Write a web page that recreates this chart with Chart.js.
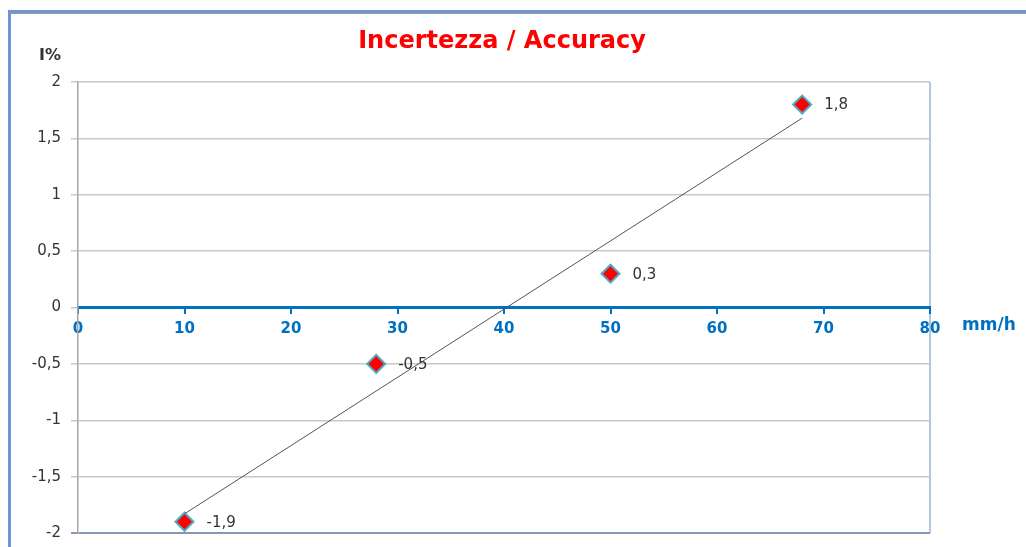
<!DOCTYPE html>
<html>
<head>
<meta charset="utf-8">
<script src="https://cdn.jsdelivr.net/npm/chart.js@4/dist/chart.umd.min.js"></script>
<style>
  html, body { margin: 0; padding: 0; background: #fff; }
  #wrap { width: 1026px; height: 547px; position: relative; }
</style>
</head>
<body>
<div id="wrap"><canvas id="accChart" width="1026" height="547"></canvas></div>
<script>
// values
var mmh = [10, 28, 50, 68];
var errPct = [-1.9, -0.5, 0.3, 1.8];
// trend line end points (as drawn)
var trendX = [10, 68];
var trendY = [-1.83, 1.68];
var yTicks = [-2, -1.5, -1, -0.5, 0, 0.5, 1, 1.5, 2];

var blue = '#0070c0';
var txt = '#333333';
var font = 'DejaVu Sans';

function comma(v) { return String(v).replace('.', ','); }

var extras = {
    id: 'extras',
    beforeDraw: function (chart) {
        var c = chart.ctx, a = chart.chartArea;
        c.save();
        // outer frame (top + left)
        c.fillStyle = '#6d97d2';
        c.fillRect(8, 10, 1026, 3);
        c.fillRect(8, 10, 3, 547);
        c.fillStyle = '#9a9a9a';
        c.fillRect(11, 13, 1026, 1);
        // plot area right edge
        c.fillStyle = '#b4c6e0';
        c.fillRect(a.right - 1, a.top, 2, a.bottom - a.top);
        c.restore();
    },
    afterDraw: function (chart) {
        var c = chart.ctx;
        c.save();
        c.fillStyle = '#ff0000';
        c.font = 'bold 24px ' + font;
        c.textAlign = 'center';
        c.textBaseline = 'middle';
        c.fillText('Incertezza / Accuracy', 502, 42);

        c.fillStyle = txt;
        c.font = 'bold 16px ' + font;
        c.textAlign = 'left';
        c.fillText('I%', 39, 56);

        c.fillStyle = blue;
        c.font = 'bold 17px ' + font;
        c.fillText('mm/h', 962, 326);

        // data labels
        var meta = chart.getDatasetMeta(1);
        c.fillStyle = txt;
        c.font = '15px ' + font;
        meta.data.forEach(function (p, i) {
            c.fillText(comma(errPct[i]), p.x + 22, p.y + 1);
        });
        c.restore();
    }
};

var ctx = document.getElementById('accChart').getContext('2d');
var chart = new Chart(ctx, {
    type: 'scatter',
    data: {
        datasets: [{
            type: 'line',
            data: trendX.map(function (x, i) { return { x: x, y: trendY[i] }; }),
            borderColor: '#555555',
            borderWidth: 1,
            pointRadius: 0,
            fill: false
        }, {
            data: mmh.map(function (x, i) { return { x: x, y: errPct[i] }; }),
            pointStyle: 'rectRot',
            pointRadius: 9,
            pointHoverRadius: 9,
            backgroundColor: '#ff0000',
            borderColor: '#4bacc6',
            pointBorderWidth: 2
        }]
    },
    plugins: [extras],
    options: {
        responsive: false,
        animation: false,
        layout: { padding: { top: 82, bottom: 14, right: 96, left: 0 } },
        plugins: { legend: { display: false }, tooltip: { enabled: false } },
        scales: {
            x: {
                type: 'linear',
                position: { y: 0 },
                min: 0, max: 80,
                ticks: { stepSize: 10, color: blue, font: { family: font, size: 15, weight: 'bold' }, padding: 8 },
                grid: { drawOnChartArea: false, color: blue, tickLength: 5, lineWidth: 2 },
                border: { color: blue, width: 3 }
            },
            y: {
                min: -2, max: 2,
                afterFit: function (s) { s.width = 78; s.paddingBottom = 0; s.paddingTop = 0; },
                afterBuildTicks: function (s) { s.ticks = yTicks.map(function (v) { return { value: v }; }); },
                ticks: { color: txt, font: { family: font, size: 15, lineHeight: 0.6 }, padding: 10, callback: function (v) { return comma(v); } },
                grid: {
                    tickLength: 7,
                    color: function (c) { return c.tick && c.tick.value === -2 ? '#8497b0' : '#c8c8c8'; },
                    lineWidth: function (c) { return c.tick && c.tick.value === -2 ? 2 : 1.5; }
                },
                border: { color: '#a6a6a6', width: 1.5 }
            }
        }
    }
});
</script>
</body>
</html>
